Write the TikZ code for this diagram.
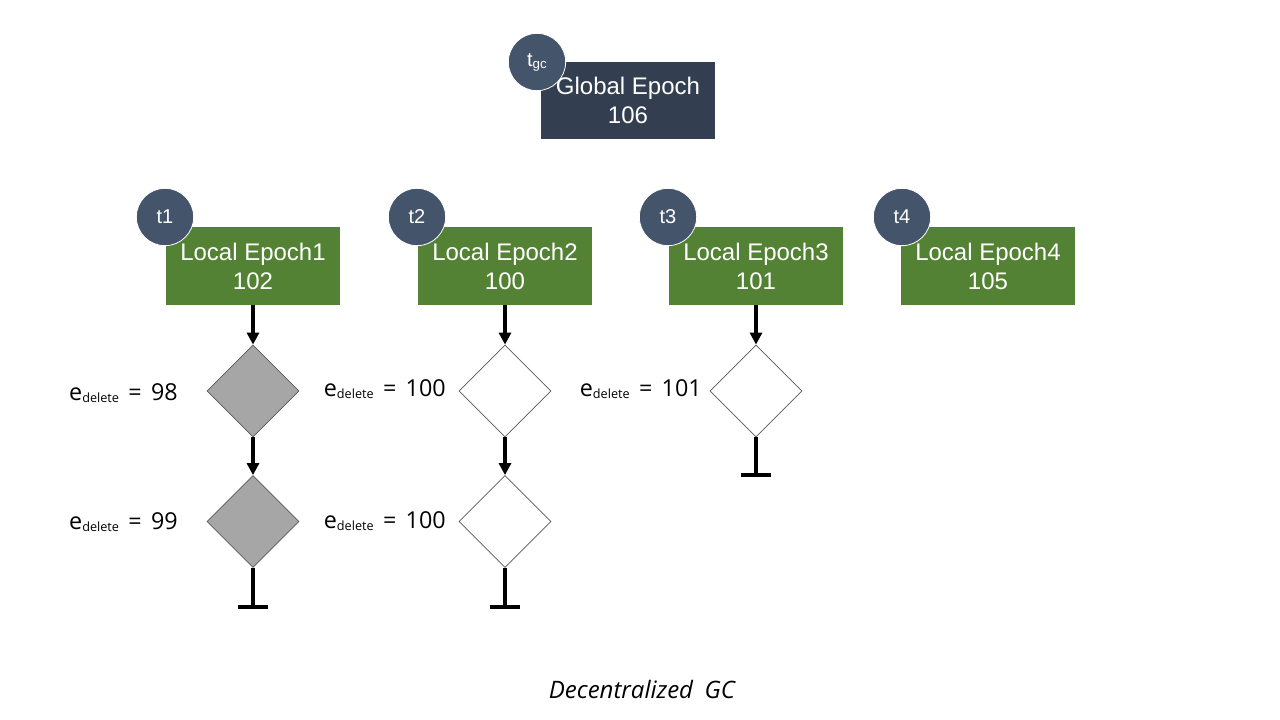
\documentclass[tikz,border=0pt]{standalone}
\usepackage{fontspec}
\setmainfont{Liberation Sans}
\newfontfamily\lblfont{Open Sans}
\usetikzlibrary{shapes.geometric,arrows.meta}
\definecolor{globfill}{HTML}{333F50}
\definecolor{thrfill}{HTML}{44546A}
\definecolor{locfill}{HTML}{548235}
\definecolor{dgray}{HTML}{A6A6A6}
\definecolor{dline}{HTML}{595959}
\newcommand{\edel}[1]{{\lblfont\fontsize{17.5}{19}\selectfont e\raisebox{-1.5pt}{\fontsize{9.5}{10}\selectfont delete}\hspace{7pt}=\hspace{7pt}#1}}
\begin{document}
\begin{tikzpicture}[x=0.75pt,y=-0.75pt,
  epochbox/.style={rectangle,inner sep=0pt,minimum width=130.5pt,minimum height=58pt,align=center,text=white,font=\fontsize{18}{21.75}\selectfont},
  globbox/.style={epochbox,fill=globfill},
  locbox/.style={epochbox,fill=locfill},
  thr/.style={circle,fill=thrfill,draw=white,line width=0.6pt,minimum size=43pt,inner sep=0pt,text=white,font=\fontsize{15}{16}\selectfont},
  chk/.style={diamond,draw=dline,line width=0.6pt,minimum width=69pt,minimum height=69pt,inner sep=0pt},
  chkfull/.style={chk,fill=dgray},
  chkempty/.style={chk,fill=white},
  flow/.style={line width=2.4pt,-{Triangle[length=9pt,width=9pt]}},
  stem/.style={line width=2.4pt},
  lbl/.style={inner sep=0pt,anchor=east}]
\useasboundingbox (0,0) rectangle (1280,720);
% global epoch
\node[globbox] (glob) at (628,100.5) {Global Epoch\\106};
\node[thr] (tgc) at (537,62) {t\raisebox{-1.5pt}{\fontsize{10}{10}\selectfont gc}};
% local epochs
\node[locbox] (le1) at (253,266) {Local Epoch1\\102};
\node[locbox] (le2) at (505,266) {Local Epoch2\\100};
\node[locbox] (le3) at (756,266) {Local Epoch3\\101};
\node[locbox] (le4) at (988,266) {Local Epoch4\\105};
\node[thr] (t1) at (165,217) {t1};
\node[thr] (t2) at (417,217) {t2};
\node[thr] (t3) at (668,217) {t3};
\node[thr] (t4) at (902,217) {t4};
% delete checks
\node[chkfull] (d11) at (253,391) {};
\node[chkfull] (d12) at (253,521.5) {};
\node[chkempty] (d21) at (505,391) {};
\node[chkempty] (d22) at (505,521.5) {};
\node[chkempty] (d31) at (756,391) {};
\node[lbl] (l11) at (178,393) {\edel{98}};
\node[lbl] (l12) at (178,522) {\edel{99}};
\node[lbl] (l21) at (446,389) {\edel{100}};
\node[lbl] (l22) at (446,521) {\edel{100}};
\node[lbl] (l31) at (702,389) {\edel{101}};
% arrows
\draw[flow] (le1) -- (d11);
\draw[flow] (d11) -- (d12);
\draw[flow] (le2) -- (d21);
\draw[flow] (d21) -- (d22);
\draw[flow] (le3) -- (d31);
% ends
\coordinate (e1) at (253,607);
\coordinate (e2) at (505,607);
\coordinate (e3) at (756,475);
\draw[stem] (d12) -- (e1) (d22) -- (e2) (d31) -- (e3);
\draw[stem] ([xshift=-11.5pt]e1) -- ([xshift=11.5pt]e1);
\draw[stem] ([xshift=-11.5pt]e2) -- ([xshift=11.5pt]e2);
\draw[stem] ([xshift=-11.5pt]e3) -- ([xshift=11.5pt]e3);
% caption
\node (cap) at (642,689) {\lblfont\itshape\fontsize{18}{20}\selectfont Decentralized\hspace{4pt} GC};
\end{tikzpicture}
\end{document}
